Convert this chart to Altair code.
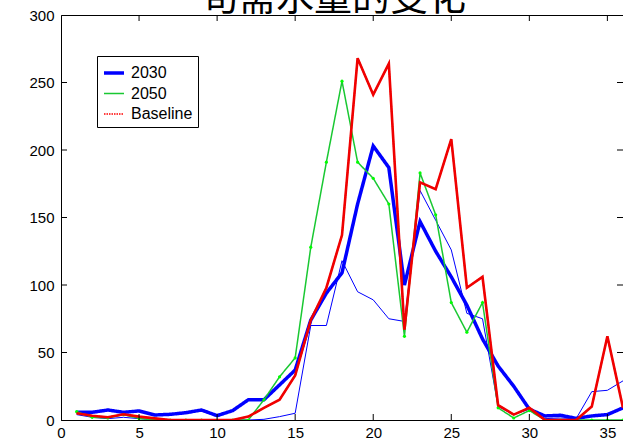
import altair as alt
import pandas as pd

# ---- data ----
periods = list(range(1, 37))
v2030 = [5.7, 5.7, 7.4, 5.7, 6.7, 3.7, 4.2, 5.4, 7.4, 3.2, 7, 15, 15, 26, 37, 74, 94, 109,
         160, 203, 187, 100, 147, 125, 106, 85, 60, 40, 25, 8, 3, 3.5, 1.2, 3, 4, 9]
v2050 = [6.2, 2, 1.5, 4, 1.2, 0, 0, 0, 0, 0, 0, 0, 15, 32, 46, 128, 191, 251,
         191, 179, 160, 62, 183, 152, 87, 65, 87, 9, 1.5, 7, 0, 0, 0, 0, 0, 0]
vbase = [5, 3.2, 2, 4.2, 2.5, 1.2, 0, 0, 0, 0, 0, 2.5, 9, 15, 33, 74, 98, 137,
         268, 241, 264, 67, 176, 171, 208, 98, 106, 11, 4, 9, 0, 0, 0, 10, 62, 9]
vthin = [4, 2, 1, 2, 1, 0, 0, 0, 0, 0, 0, 0, 0.5, 2.5, 5, 70, 70, 118,
         95, 89, 75, 73, 170, 148, 126, 79, 75, 10, 4, 8, 1, 1.5, 1, 21, 22, 29]
series_names = ["2030", "2050", "Baseline"]
x_ticks = [0, 5, 10, 15, 20, 25, 30, 35]
y_ticks = [0, 50, 100, 150, 200, 250, 300]
title_text = "旬需水量的变化"

rows = []
for name, vals in zip(series_names, [v2030, v2050, vbase]):
    for p, v in zip(periods, vals):
        rows.append({"period": p, "value": v, "series": name})
df = pd.DataFrame(rows)
thin_df = pd.DataFrame({"period": periods, "value": vthin})
green_df = df[df["series"] == "2050"]
base_df = df[df["series"] == "Baseline"]
xt_df = pd.DataFrame({"t": x_ticks[1:]})
yt_df = pd.DataFrame({"t": y_ticks[1:-1]})

W, H = 562, 405
FONT = "Liberation Sans"
xs = alt.Scale(domain=[0, 36], nice=False, zero=False)
ys = alt.Scale(domain=[0, 300], nice=False)

x_axis = alt.Axis(values=x_ticks, ticks=False, grid=False, labelPadding=5, title=None,
                  domainColor="black", labelFontSize=15, labelColor="black", labelFont=FONT,
                  labelFlush=False)
y_axis = alt.Axis(values=y_ticks, ticks=False, grid=False, labelPadding=7, title=None,
                  domainColor="black", labelFontSize=15, labelColor="black", labelFont=FONT,
                  labelFlush=False)

X = alt.X("period:Q", scale=xs, axis=x_axis)
Y = alt.Y("value:Q", scale=ys, axis=y_axis)
Xp = alt.X("period:Q", scale=xs)
Yp = alt.Y("value:Q", scale=ys)

leg = alt.Legend(orient="none", legendX=36, legendY=41, title=None, symbolType="stroke",
                 symbolSize=400, labelFontSize=16, labelFont=FONT, labelColor="black",
                 strokeColor="black", fillColor="white", padding=5, rowPadding=1.5,
                 labelOffset=5)

thin = alt.Chart(thin_df).mark_line(clip=True, color="#0000ff", strokeWidth=1).encode(x=X, y=Y)

lines = alt.Chart(df).mark_line(clip=True).encode(
    x=X, y=Y,
    color=alt.Color("series:N", scale=alt.Scale(domain=series_names,
                                                range=["#0000ff", "#19c832", "#ff0000"]), legend=leg),
    strokeWidth=alt.StrokeWidth("series:N", scale=alt.Scale(type="ordinal", domain=series_names,
                                                            range=[3.5, 1.5, 1.6]), legend=leg),
    strokeDash=alt.StrokeDash("series:N", scale=alt.Scale(domain=series_names,
                                                          range=[[1, 0], [1, 0], [1.5, 1]]), legend=leg),
)

base_solid = alt.Chart(base_df).mark_line(clip=True, color="#f00000", strokeWidth=2.6).encode(x=Xp, y=Yp)

pts = alt.Chart(green_df).mark_point(filled=True, size=10, color="#00ff00", opacity=1, clip=True).encode(
    x=Xp, y=Yp)

tick_style = dict(color="black", strokeWidth=1)
t_bottom = alt.Chart(xt_df).mark_rule(**tick_style).encode(
    x=alt.X("t:Q", scale=xs), y=alt.value(H - 6), y2=alt.value(H))
t_top = alt.Chart(xt_df).mark_rule(**tick_style).encode(
    x=alt.X("t:Q", scale=xs), y=alt.value(0), y2=alt.value(6))
t_left = alt.Chart(yt_df).mark_rule(**tick_style).encode(
    y=alt.Y("t:Q", scale=ys), x=alt.value(0), x2=alt.value(6))
t_right = alt.Chart(yt_df).mark_rule(**tick_style).encode(
    y=alt.Y("t:Q", scale=ys), x=alt.value(W - 6), x2=alt.value(W))

title = alt.Chart(pd.DataFrame({"t": [title_text]})).mark_text(
    font="Noto Sans CJK SC", fontSize=38, align="center", baseline="alphabetic", color="black"
).encode(text="t:N", x=alt.value(272), y=alt.value(-5))

chart = alt.layer(thin, lines, pts, base_solid, t_bottom, t_top, t_left, t_right, title).properties(
    width=W, height=H,
    autosize=alt.AutoSizeParams(type="none"),
    padding={"left": 61, "top": 15, "right": 0, "bottom": 22},
    background="white",
).configure_view(stroke="black", strokeWidth=1)

chart.save("out.html", embed_options={"renderer": "svg", "actions": False})
